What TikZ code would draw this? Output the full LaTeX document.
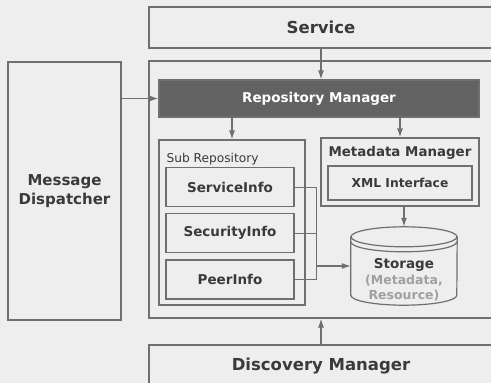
\documentclass[tikz,border=0pt]{standalone}
\usepackage{fontspec}
\setmainfont{DejaVu Sans}
\usetikzlibrary{positioning,calc,arrows.meta}
\definecolor{bggray}{HTML}{EEEEEE}
\definecolor{linegray}{HTML}{6F6F6F}
\definecolor{txtgray}{HTML}{3A3A3A}
\definecolor{darkfill}{HTML}{626262}
\definecolor{softgray}{HTML}{A0A0A0}

\begin{document}
\begin{tikzpicture}[>={Latex[length=9pt,width=6pt]}, x=1pt, y=1pt,
	box/.style={draw=linegray, line width=1.2pt, inner sep=0pt, text=txtgray, font=\bfseries\fontsize{13.5}{16}\selectfont},
	arr/.style={->, draw=linegray, line width=1.2pt},
	wire/.style={draw=linegray, line width=1pt}]
	\useasboundingbox (0,0) rectangle (491,-383);
	\fill[bggray] (0,0) rectangle (491,-383);
	\clip (0,0) rectangle (491,-383);

	% outer layers
	\node[box, minimum width=344pt, minimum height=41pt, font=\bfseries\fontsize{16.5}{20}\selectfont] (service) at (321,-27.5) {Service};
	\node[box, minimum width=344pt, minimum height=257pt] (main) at (321,-189.5) {};
	\node[box, minimum width=344pt, minimum height=42pt, font=\bfseries\fontsize{16.5}{20}\selectfont] (discovery) at (321,-366) {Discovery Manager};
	\node[box, minimum width=113pt, minimum height=258pt, align=center, font=\bfseries\fontsize{15}{19}\selectfont] (disp) at (64.5,-191) {Message\\Dispatcher};

	% repository
	\node[box, fill=darkfill, text=white, minimum width=320pt, minimum height=37pt] (repo) at (319,-98.5) {Repository Manager};
	\node[box, minimum width=146pt, minimum height=165pt] (subrepo) at (232,-222.5) {};
	\node[anchor=west, inner sep=0pt, text=txtgray, font=\fontsize{12.2}{15}\selectfont] (sublabel) at ([xshift=8pt,yshift=-20pt]subrepo.north west) {Sub Repository};
	\node[box, minimum width=128pt, minimum height=39pt] (svcinfo) at (230,-187) {ServiceInfo};
	\node[box, minimum width=128pt, minimum height=39pt, below=6pt of svcinfo] (secinfo) {SecurityInfo};
	\node[box, minimum width=128pt, minimum height=39pt, below=6pt of secinfo] (peerinfo) {PeerInfo};

	\node[box, minimum width=158pt, minimum height=68pt] (mm) at (400,-172) {};
	\node[inner sep=0pt, text=txtgray, font=\bfseries\fontsize{13.4}{16}\selectfont] (mmlabel) at ([yshift=-15pt]mm.north) {Metadata Manager};
	\node[box, minimum width=144pt, minimum height=34pt, font=\bfseries\fontsize{12.3}{15}\selectfont] (xml) at ([yshift=-11pt]mm.center) {XML Interface};

	% storage
	\node[minimum width=106pt, minimum height=78pt, inner sep=0pt] (storage) at (404,-266) {};
	\draw[wire, line width=1.2pt] ([yshift=-10pt]storage.north) ellipse (53pt and 10pt);
	\draw[wire, line width=1.2pt] ([yshift=-10pt]storage.north west) -- ([yshift=10pt]storage.south west)
		arc[start angle=180, end angle=360, x radius=53pt, y radius=10pt] -- ([yshift=-10pt]storage.north east);
	\draw[wire, line width=1.2pt] ([yshift=-15pt]storage.north west) arc[start angle=180, end angle=360, x radius=53pt, y radius=10pt];
	\node[align=center, inner sep=0pt, text=softgray, font=\bfseries\fontsize{12.5}{15.5}\selectfont] (storagetext) at (404,-280)
		{\textcolor{txtgray}{\fontsize{13.5}{15.5}\selectfont Storage}\\(Metadata,\\Resource)};

	% connectors
	\draw[arr] (service.south |- service.south) -- (service.south |- repo.north);
	\draw[arr] (discovery.north) -- (main.south);
	\draw[arr] (disp.east |- repo.west) -- (repo.west);
	\draw[arr] (repo.south -| subrepo.north) -- (subrepo.north);
	\draw[arr] (repo.south -| mm.north) -- (mm.north);
	\draw[arr] (mm.south -| storage.north) -- (storage.north);
	\coordinate (bus) at (316,-266);
	\draw[wire] (svcinfo.east) -| (bus);
	\draw[wire] (secinfo.east) -| (bus);
	\draw[wire] (peerinfo.east) -| (bus);
	\draw[arr] (bus) -- (storage.west);
\end{tikzpicture}
\end{document}
